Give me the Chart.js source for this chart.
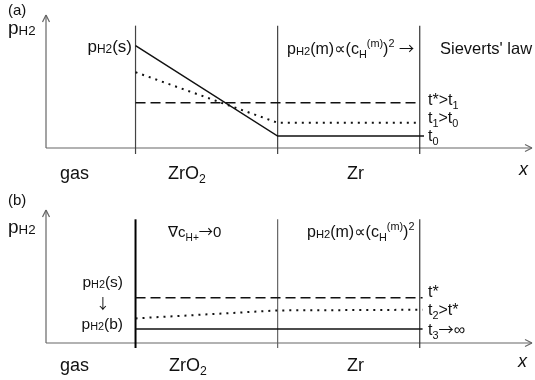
<!DOCTYPE html>
<html>
<head>
<meta charset="utf-8">
<script src="https://cdn.jsdelivr.net/npm/chart.js@4.4.1/dist/chart.umd.min.js"></script>
<style>
  html, body { margin: 0; padding: 0; background: #fff; }
  canvas { display: block; }
</style>
</head>
<body>
<canvas id="panelA" width="535" height="190"></canvas>
<canvas id="panelB" width="535" height="190"></canvas>
<script>
// Depth coordinate x: gas | ZrO2 | Zr | end of metal
const interfaces = [0.63, 1.63, 2.63];
const xRange = [0, 3.42];
const pRange = [0, 10];

// Layer names under the x axis
const layerLabels = ['gas', 'ZrO_{2}', 'Zr'];

// (a) transient p_H2 profiles
const xA_t0 = [0.63, 1.63, 2.66];
const pA_t0 = [7.7, 0.9, 0.9];
const xA_t1 = [0.63, 1.63, 2.63];
const pA_t1 = [5.7, 1.9, 1.9];
const xA_ts = [0.63, 2.63];
const pA_ts = [3.4, 3.4];
const seriesLabelsA = ['t*>t_{1}', 't_{1}>t_{0}', 't_{0}'];

// (b) relaxation towards a flat profile
const xB_ts = [0.63, 2.65];
const pB_ts = [3.4, 3.4];
const xB_t2 = [0.63, 1.63, 2.65];
const pB_t2 = [1.85, 2.45, 2.5];
const xB_t3 = [0.63, 2.65];
const pB_t3 = [1.05, 1.05];
const seriesLabelsB = ['t*', 't_{2}>t*', 't_{3}#{→}∞'];

const FAMILY = '"Liberation Sans", Arial, "DejaVu Sans", sans-serif';
const SYMBOL_FAMILY = '"Noto Sans CJK JP", "DejaVu Sans", sans-serif';
const INK = '#111';

function pts(xs, ys) { return xs.map((x, i) => ({ x: x, y: ys[i] })); }

// Tiny markup: _{..} subscript, ^{..} superscript, ~{..} small text on the baseline,
// #{..} thin full-width arrow glyphs
function parseRich(str) {
  const parts = [];
  const re = /([_^~#])\{([^}]*)\}/g;
  let last = 0, m;
  while ((m = re.exec(str))) {
    if (m.index > last) parts.push([str.slice(last, m.index), 'n']);
    parts.push([m[2], { '_': 'sub', '^': 'sup', '~': 'low', '#': 'sym' }[m[1]]]);
    last = re.lastIndex;
  }
  if (last < str.length) parts.push([str.slice(last), 'n']);
  return parts;
}

const KIND = {
  n:   { s: 1.0,  dy: 0 },
  sub: { s: 0.68, dy: 0.24 },
  sup: { s: 0.68, dy: -0.42 },
  low: { s: 0.7,  dy: 0.05 },
  sym: { s: 0.95, dy: 0.02, sym: true }
};

function fontFor(kind, size, style) {
  const k = KIND[kind];
  return style + (size * k.s) + 'px ' + (k.sym ? SYMBOL_FAMILY : FAMILY);
}

function drawRich(ctx, str, x, y, size, opts) {
  opts = opts || {};
  const style = opts.italic ? 'italic ' : '';
  const parts = parseRich(str);
  let total = 0;
  parts.forEach(p => {
    ctx.font = fontFor(p[1], size, style);
    total += ctx.measureText(p[0]).width;
  });
  let cx = x;
  if (opts.align === 'right') cx = x - total;
  if (opts.align === 'center') cx = x - total / 2;
  ctx.fillStyle = INK;
  ctx.textBaseline = 'alphabetic';
  ctx.textAlign = 'left';
  parts.forEach(p => {
    const k = KIND[p[1]];
    ctx.font = fontFor(p[1], size, style);
    ctx.fillText(p[0], cx, y + k.dy * size);
    cx += ctx.measureText(p[0]).width;
  });
}

function line(ctx, x1, y1, x2, y2) {
  ctx.beginPath(); ctx.moveTo(x1, y1); ctx.lineTo(x2, y2); ctx.stroke();
}

// Axes with open arrowheads and the layer boundaries
function frame(cfg) {
  return {
    id: 'frame',
    beforeDatasetsDraw(chart) {
      const ctx = chart.ctx, xs = chart.scales.x, ys = chart.scales.y;
      const left = xs.getPixelForValue(xRange[0]);
      const right = xs.getPixelForValue(xRange[1]);
      const bottom = ys.getPixelForValue(pRange[0]);
      const top = ys.getPixelForValue(pRange[1]);
      ctx.save();
      ctx.strokeStyle = '#666';
      ctx.lineWidth = 1.2;
      line(ctx, left, bottom, left, top);
      line(ctx, left - 3.5, top + 7, left, top);
      line(ctx, left + 3.5, top + 7, left, top);
      line(ctx, left, bottom, right, bottom);
      line(ctx, right - 7, bottom - 3.5, right, bottom);
      line(ctx, right - 7, bottom + 3.5, right, bottom);
      interfaces.forEach((v, i) => {
        const px = xs.getPixelForValue(v);
        ctx.strokeStyle = cfg.boundaryColor[i];
        ctx.lineWidth = cfg.boundaryWidth[i];
        line(ctx, px, ys.getPixelForValue(cfg.boundaryTop), px, bottom + cfg.boundaryBelow);
      });
      ctx.restore();
    },
    afterDraw(chart) {
      const ctx = chart.ctx;
      ctx.save();
      cfg.texts.forEach(t => drawRich(ctx, t.s, t.x, t.y, t.size, t));
      ctx.restore();
    }
  };
}

function dataset(data, kind) {
  const d = {
    data: data,
    borderColor: INK,
    borderWidth: 1.5,
    pointRadius: 0,
    tension: 0,
    fill: false,
    borderCapStyle: 'butt'
  };
  if (kind === 'dash') d.borderDash = [10, 5];
  if (kind === 'dot') { d.borderDash = [2, 5]; d.borderWidth = 2; }
  return d;
}

function makeChart(id, datasets, padding, cfg) {
  return new Chart(document.getElementById(id), {
    type: 'line',
    data: { datasets: datasets },
    options: {
      responsive: false,
      animation: false,
      events: [],
      layout: { padding: padding },
      plugins: { legend: { display: false }, tooltip: { enabled: false } },
      scales: {
        x: { type: 'linear', display: false, min: xRange[0], max: xRange[1] },
        y: { type: 'linear', display: false, min: pRange[0], max: pRange[1] }
      }
    },
    plugins: [frame(cfg)]
  });
}

// Panel (a)
makeChart('panelA', [
  dataset(pts(xA_t0, pA_t0), 'solid'),
  dataset(pts(xA_t1, pA_t1), 'dot'),
  dataset(pts(xA_ts, pA_ts), 'dash')
], { left: 46, right: 3, top: 15, bottom: 42 }, {
  boundaryColor: ['#444', '#444', '#333'],
  boundaryWidth: [1.2, 1.2, 1.2],
  boundaryTop: 9.2,
  boundaryBelow: 6,
  texts: [
    { s: '(a)', x: 8, y: 15, size: 15 },
    { s: 'p~{H2}', x: 8, y: 34, size: 19 },
    { s: 'p~{H2}(s)', x: 132, y: 52, size: 17, align: 'right' },
    { s: 'p~{H2}(m)∝(c_{H}^{(m)})^{2} #{→}', x: 287, y: 54, size: 16 },
    { s: "Sieverts' law", x: 440, y: 54, size: 16.5 },
    { s: seriesLabelsA[0], x: 428, y: 105, size: 16 },
    { s: seriesLabelsA[1], x: 428, y: 123, size: 16 },
    { s: seriesLabelsA[2], x: 428, y: 141, size: 16 },
    { s: layerLabels[0], x: 60, y: 179, size: 18 },
    { s: layerLabels[1], x: 168, y: 179, size: 18 },
    { s: layerLabels[2], x: 347, y: 179, size: 18 },
    { s: 'x', x: 519, y: 175, size: 18, italic: true }
  ]
});

// Panel (b) — text coordinates are local to its canvas (top at 190)
makeChart('panelB', [
  dataset(pts(xB_ts, pB_ts), 'dash'),
  dataset(pts(xB_t2, pB_t2), 'dot'),
  dataset(pts(xB_t3, pB_t3), 'solid')
], { left: 46, right: 3, top: 20, bottom: 37 }, {
  boundaryColor: ['#000', '#666', '#333'],
  boundaryWidth: [2, 1.2, 1.2],
  boundaryTop: 9.3,
  boundaryBelow: 5,
  texts: [
    { s: '(b)', x: 8, y: 15, size: 15 },
    { s: 'p~{H2}', x: 8, y: 43, size: 19 },
    { s: '∇c_{H+}#{→}0', x: 168, y: 47, size: 15 },
    { s: 'p~{H2}(m)∝(c_{H}^{(m)})^{2}', x: 307, y: 47, size: 16 },
    { s: 'p~{H2}(s)', x: 123, y: 97, size: 15.5, align: 'right' },
    { s: '#{↓}', x: 103, y: 119, size: 15, align: 'center' },
    { s: 'p~{H2}(b)', x: 123, y: 139, size: 15.5, align: 'right' },
    { s: seriesLabelsB[0], x: 428, y: 107, size: 16 },
    { s: seriesLabelsB[1], x: 428, y: 125, size: 16 },
    { s: seriesLabelsB[2], x: 428, y: 145, size: 16 },
    { s: layerLabels[0], x: 60, y: 181, size: 18 },
    { s: layerLabels[1], x: 169, y: 181, size: 18 },
    { s: layerLabels[2], x: 347, y: 181, size: 18 },
    { s: 'x', x: 518, y: 177, size: 18, italic: true }
  ]
});
</script>
</body>
</html>
